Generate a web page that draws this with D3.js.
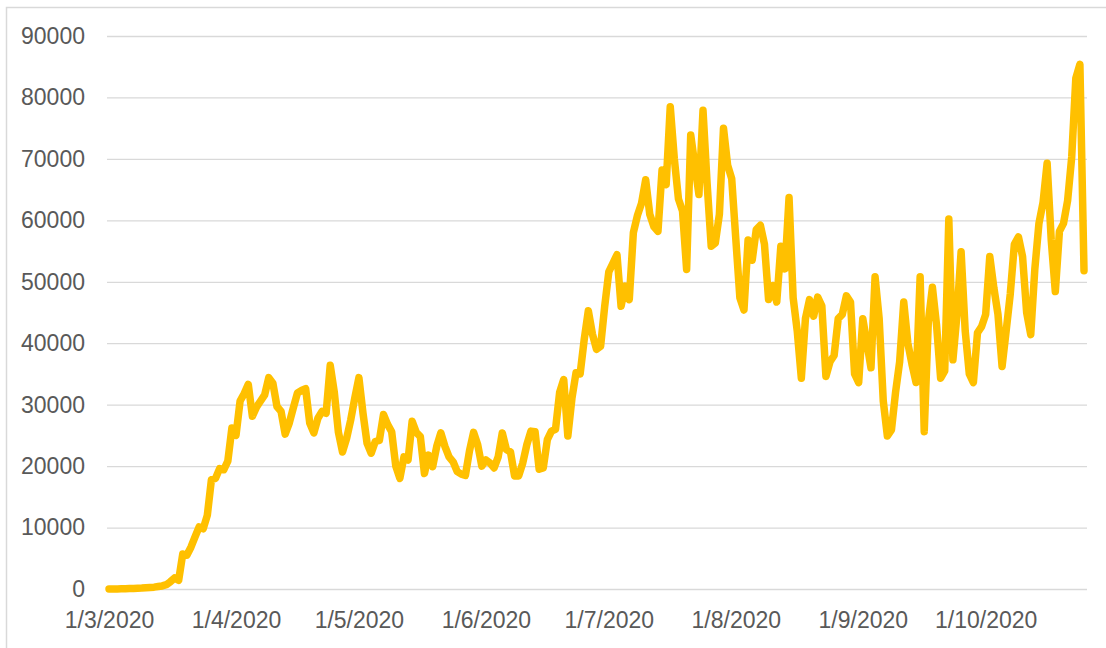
<!DOCTYPE html>
<html>
<head>
<meta charset="utf-8">
<script src="https://cdn.jsdelivr.net/npm/d3@7"></script>
<style>
  body { margin: 0; background: #fff; }
  svg { display: block; font-family: Lato, "Open Sans", sans-serif; }
</style>
</head>
<body>
<svg id="chart" width="1106" height="648"></svg>
<script>
// daily values, one array per month (starting 1 March 2020)
var march = [0, 10, 20, 30, 50, 80, 100, 120, 150, 200, 250, 300, 400, 500, 700, 1200,
  1800, 1400, 5700, 5500, 6800, 8500, 10100, 9800, 12000, 17800, 18000, 19600, 19400, 20800, 26200];
var april = [25000, 30600, 31800, 33300, 28100, 29600, 30600, 31600, 34400, 33500, 29700, 28900,
  25200, 27000, 29500, 31900, 32300, 32600, 27000, 25400, 27800, 28900, 28600, 36400, 32000,
  25500, 22300, 24500, 27500, 31100];
var may = [34400, 28600, 23700, 22100, 24000, 24200, 28400, 26800, 25600, 20000, 18000, 21500,
  21000, 27300, 25500, 24800, 18800, 21800, 19900, 23200, 25400, 23200, 21500, 20700, 19100,
  18700, 18500, 22500, 25500, 23500, 20000];
var june = [21000, 20500, 19700, 21500, 25400, 22700, 22300, 18400, 18400, 20500, 23500, 25700,
  25600, 19500, 19700, 24300, 25700, 26000, 32000, 34100, 24900, 31000, 35200, 35000, 40600,
  45300, 41500, 39000, 39500, 46000];
var july = [51600, 53000, 54400, 46000, 49300, 47100, 58000, 60800, 62800, 66600, 61000, 59000,
  58200, 68200, 65800, 78500, 70000, 63500, 61500, 52000, 73900, 69000, 64200, 77900, 66000,
  55800, 56300, 61000, 75000, 69000, 66800];
var august = [57000, 47400, 45400, 56800, 53500, 58500, 59200, 56100, 47100, 49400, 46700, 55800,
  52100, 63700, 47400, 42000, 34300, 44000, 47100, 44400, 47500, 46100, 34600, 37000, 38000,
  44000, 44700, 47700, 46700, 35000, 33600];
var september = [44000, 40000, 36000, 50800, 44000, 30600, 24900, 25900, 32000, 37000, 46700,
  40000, 36600, 33600, 50800, 25600, 43500, 49100, 43000, 34300, 35500, 60200, 37300, 44700,
  54900, 42000, 35000, 33600, 41700, 42700];
var october = [44700, 54100, 49000, 44700, 36200, 42000, 48000, 56100, 57300, 54100, 45000, 41400,
  52100, 59500, 62900, 69300, 56800, 48400, 58200, 59500, 63200, 70300, 83100, 85400, 51800];

var yTicks = [0, 10000, 20000, 30000, 40000, 50000, 60000, 70000, 80000, 90000];
var xTickDates = ["2020-03-01", "2020-04-01", "2020-05-01", "2020-06-01", "2020-07-01",
  "2020-08-01", "2020-09-01", "2020-10-01"];

var startDate = new Date(Date.UTC(2020, 2, 1));
var values = [].concat(march, april, may, june, july, august, september, october);
var data = values.map(function(v, i) {
  return { date: d3.utcDay.offset(startDate, i), value: v };
});

var svg = d3.select("#chart");
var plotLeft = 107, plotRight = 1087, plotTop = 36, plotBottom = 589;

// outer frame
svg.append("rect")
  .attr("x", 6.5).attr("y", 7.5)
  .attr("width", 1130).attr("height", 680)
  .attr("fill", "#fff")
  .attr("stroke", "#d9d9d9").attr("stroke-width", 1.5);

var x = d3.scaleUtc()
  .domain([startDate, data[data.length - 1].date])
  .range([109, 1084]);

var y = d3.scaleLinear()
  .domain([0, 90000])
  .range([plotBottom, plotTop]);

// y axis + gridlines
var yAxis = svg.append("g")
  .attr("transform", "translate(" + plotLeft + ",0)")
  .call(d3.axisLeft(y).tickValues(yTicks).tickSize(-(plotRight - plotLeft)).tickPadding(22)
    .tickFormat(d3.format("d")));
yAxis.select(".domain").remove();
yAxis.selectAll(".tick line").attr("stroke", "#d9d9d9").attr("stroke-width", 1.3);
yAxis.selectAll(".tick text")
  .attr("fill", "#595959")
  .style("font-size", "23px");

// x axis labels
var fmt = d3.utcFormat("%-d/%-m/%Y");
var xAxis = svg.append("g")
  .attr("transform", "translate(0," + plotBottom + ")")
  .call(d3.axisBottom(x)
    .tickValues(xTickDates.map(function(s) { return d3.utcParse("%Y-%m-%d")(s); }))
    .tickFormat(fmt).tickSize(0).tickPadding(23));
xAxis.select(".domain").remove();
xAxis.selectAll(".tick text")
  .attr("fill", "#595959")
  .style("font-size", "23px");

// series line
var line = d3.line()
  .x(function(d) { return x(d.date); })
  .y(function(d) { return y(d.value); });

svg.append("path")
  .datum(data)
  .attr("d", line)
  .attr("fill", "none")
  .attr("stroke", "#ffc000")
  .attr("stroke-width", 7.5)
  .attr("stroke-linejoin", "round")
  .attr("stroke-linecap", "round");
</script>
</body>
</html>
